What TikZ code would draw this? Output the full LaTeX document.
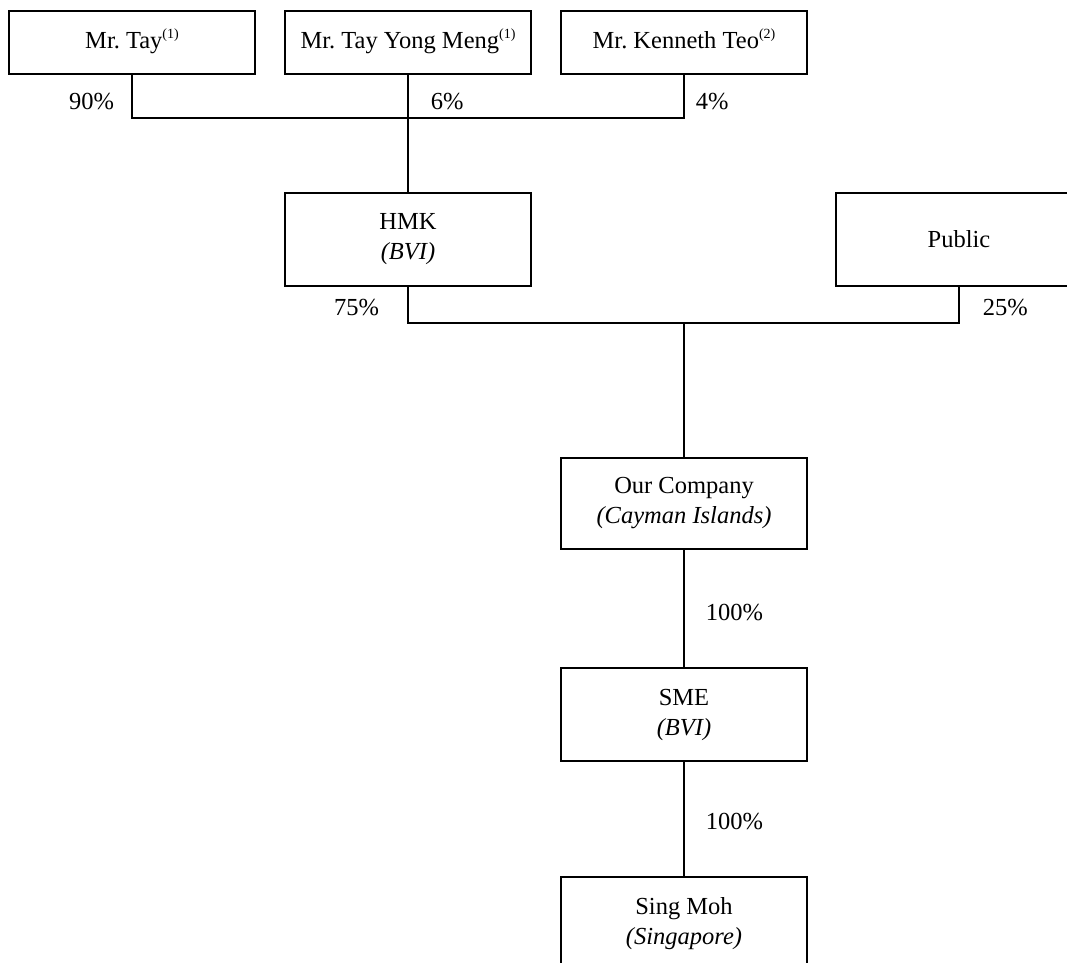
\documentclass[tikz,border=0pt]{standalone}
\usepackage{fontspec}
\setmainfont{Liberation Serif}
\usetikzlibrary{positioning}
\newcommand{\fnmark}[1]{\raisebox{10pt}{\fontsize{14}{14}\selectfont(#1)}\strut}

\begin{document}
\begin{tikzpicture}[x=1pt,y=-1pt,line width=1.8pt,
  every node/.style={font=\fontsize{24.5}{30}\selectfont},
  box/.style={draw,minimum width=246pt,inner sep=0pt,align=center},
  pct/.style={inner sep=0pt}]
\useasboundingbox (0,0) rectangle (1067,962);
\clip (0,0) rectangle (1067,962);
% shareholders
\node[box,minimum height=63pt] (A) at (132,42.5) {Mr.\ Tay\fnmark{1}};
\node[box,minimum height=63pt] (B) at (408,42.5) {Mr.\ Tay Yong Meng\fnmark{1}};
\node[box,minimum height=63pt] (C) at (684,42.5) {Mr.\ Kenneth Teo\fnmark{2}};
\node[box,minimum height=93pt] (D) at (408,239.5) {HMK\\\textit{(BVI)}};
\node[box,minimum height=93pt] (E) at (959,239.5) {Public};
% group
\node[box,minimum height=91pt] (F) at (684,503.5) {Our Company\\\textit{(Cayman Islands)}};
\node[box,minimum height=93pt] (G) at (684,714.5) {SME\\\textit{(BVI)}};
\node[box,minimum height=93pt] (H) at (684,923.5) {Sing Moh\\\textit{(Singapore)}};
\coordinate (J) at (408,118);
\coordinate (K) at (684,323);
\draw (A.south) |- node[pct,pos=0.31,left=17pt] {90\%} (J);
\draw (C.south) |- node[pct,pos=0.31,right=11pt] {4\%} (J);
\draw (B) -- node[pct,pos=0.23,right=22pt] {6\%} (D);
\draw (D.south) |- node[pct,pos=0.28,left=28pt] {75\%} (K);
\draw (E.south) |- node[pct,pos=0.28,right=23pt] {25\%} (K);
\draw (K) -- (F);
\draw (F) -- node[pct,pos=0.53,right=21pt] {100\%} (G);
\draw (G) -- node[pct,pos=0.52,right=21pt] {100\%} (H);
\end{tikzpicture}
\end{document}
